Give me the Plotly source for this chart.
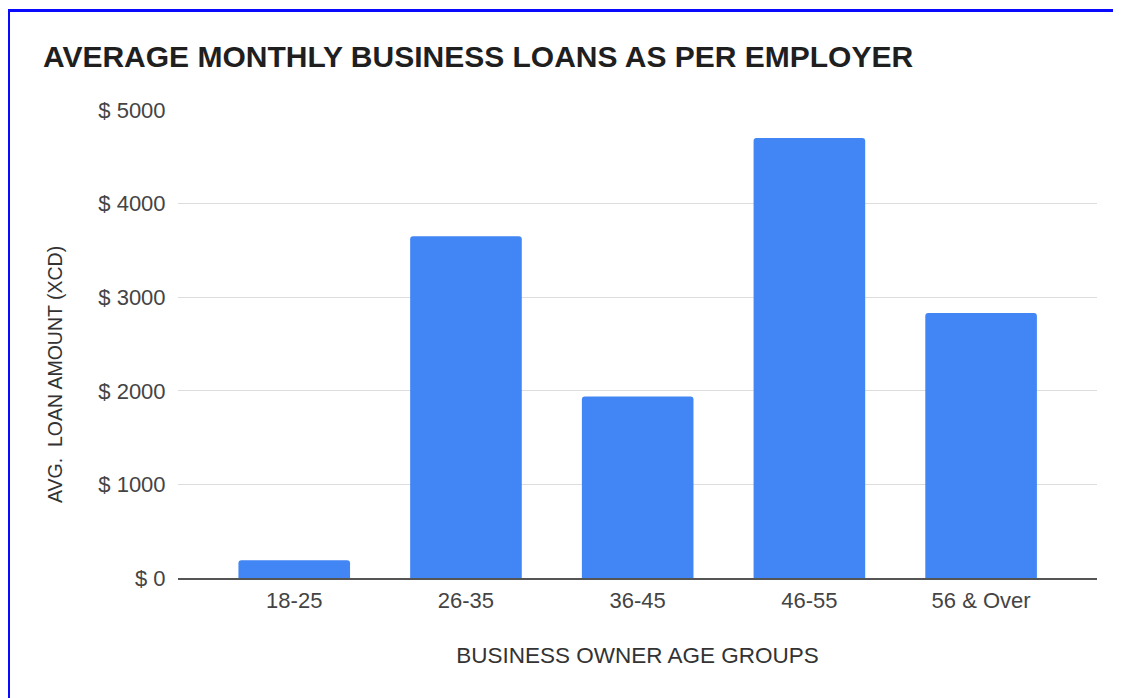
import plotly.graph_objects as go

# ---- data ----
age_groups = ["18-25", "26-35", "36-45", "46-55", "56 & Over"]
avg_loans = [190, 3650, 1940, 4700, 2830]
y_ticks = [0, 1000, 2000, 3000, 4000, 5000]
y_tick_labels = ["$ 0", "$ 1000", "$ 2000", "$ 3000", "$ 4000", "$ 5000"]

title_text = "AVERAGE MONTHLY BUSINESS LOANS AS PER EMPLOYER"
x_title = "BUSINESS OWNER AGE GROUPS"
y_title = "AVG.  LOAN AMOUNT (XCD)"

# page body adds an 8px offset; layout numbers below compensate for it
W, H = 1121, 698
ML, MR, MT, MB = 170, 32, 102, 128
FONT = "Arial, Liberation Sans, sans-serif"

fig = go.Figure(
    go.Bar(
        x=age_groups,
        y=avg_loans,
        marker=dict(color="#4285F4", line=dict(width=0)),
        width=0.65,
        hoverinfo="x+y",
    )
)

# paper coords derived from margins
pw, ph = W - ML - MR, H - MT - MB
def px_x(v):
    return (v - ML) / pw
def px_y(v):
    return (H - MB - v) / ph

# blue frame around the picture
fig.add_shape(
    type="rect", xref="paper", yref="paper",
    x0=px_x(0.5), x1=px_x(W + 20), y0=px_y(H + 20), y1=px_y(2.5),
    line=dict(color="#0a0aff", width=3), fillcolor="rgba(0,0,0,0)", layer="above",
)

# y axis title (placed lower than centre, as in the original)
fig.add_annotation(
    text=y_title, xref="paper", yref="paper",
    x=px_x(47), y=px_y(367), xanchor="center", yanchor="middle",
    textangle=-90, showarrow=False,
    font=dict(family=FONT, size=19.5, color="#333333"),
)

fig.update_layout(
    width=W, height=H,
    margin=dict(l=ML, r=MR, t=MT, b=MB, autoexpand=False),
    paper_bgcolor="white", plot_bgcolor="white",
    barcornerradius=3,
    showlegend=False,
    font=dict(family=FONT, color="#444444"),
    title=dict(
        text=f"<b>{title_text}</b>",
        font=dict(family=FONT, size=30, color="#1f1f1f"),
        x=35 / W, xanchor="left", xref="container",
        y=1 - 48 / H, yanchor="middle", yref="container",
    ),
    xaxis=dict(
        range=[-0.677, 4.675],
        showline=True, linecolor="#555555", linewidth=1.5,
        showgrid=False,
        ticks="outside", ticklen=2, tickcolor="rgba(0,0,0,0)",
        tickfont=dict(size=22, color="#444444"),
        title=dict(text=x_title, font=dict(size=22.5, color="#333333"), standoff=35),
        automargin=False,
        fixedrange=True,
    ),
    yaxis=dict(
        range=[0, 5000],
        tickvals=y_ticks, ticktext=y_tick_labels,
        showgrid=True, gridcolor="#dddddd", gridwidth=1,
        zeroline=False, showline=False,
        ticks="outside", ticklen=7, tickcolor="rgba(0,0,0,0)",
        tickfont=dict(size=22, color="#444444"),
        automargin=False,
        fixedrange=True,
    ),
)

fig.write_html("out.html")
